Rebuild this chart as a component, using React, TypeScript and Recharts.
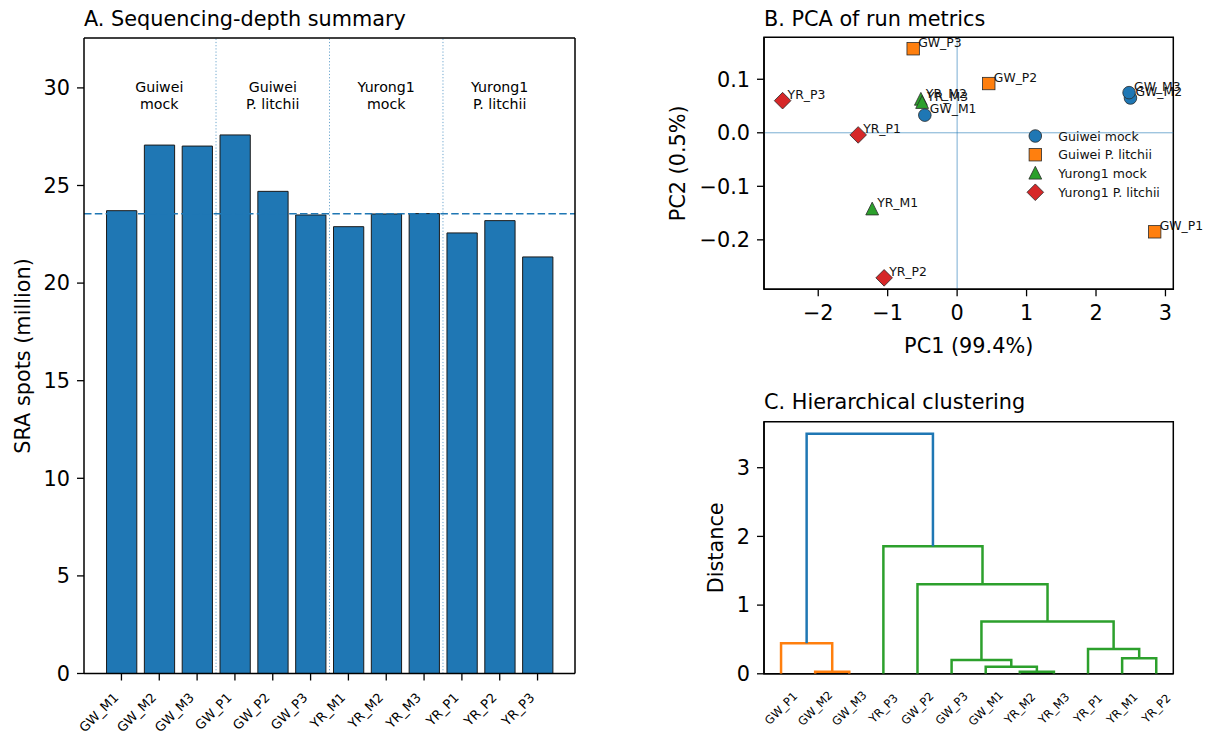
import React from 'react'
import {
  BarChart,
  Bar,
  XAxis,
  YAxis,
  ReferenceLine,
  ReferenceArea,
  ScatterChart,
  Scatter,
} from 'recharts'

const FONT = '"DejaVu Sans", Verdana, sans-serif'

// ---- A. sequencing depth ----
const samples = ['GW_M1', 'GW_M2', 'GW_M3', 'GW_P1', 'GW_P2', 'GW_P3', 'YR_M1', 'YR_M2', 'YR_M3', 'YR_P1', 'YR_P2', 'YR_P3']
const spotsMillion = [23.71, 27.07, 27.02, 27.59, 24.7, 23.49, 22.89, 23.54, 23.56, 22.57, 23.2, 21.34]
const medianSpots = 23.55
const groupTitles = [
  ['Guiwei', 'mock'],
  ['Guiwei', 'P. litchii'],
  ['Yurong1', 'mock'],
  ['Yurong1', 'P. litchii'],
]
const groupSize = 3
const spotTicks = [0, 5, 10, 15, 20, 25, 30]

// ---- B. PCA ----
const pcaGroups = ['Guiwei mock', 'Guiwei P. litchii', 'Yurong1 mock', 'Yurong1 P. litchii']
const pcaNames = [
  ['GW_M1', 'GW_M2', 'GW_M3'],
  ['GW_P1', 'GW_P2', 'GW_P3'],
  ['YR_M1', 'YR_M2', 'YR_M3'],
  ['YR_P1', 'YR_P2', 'YR_P3'],
]
const pc1 = [
  [-0.465, 2.496, 2.476],
  [2.845, 0.456, -0.633],
  [-1.223, -0.522, -0.504],
  [-1.425, -1.051, -2.513],
]
const pc2 = [
  [0.033, 0.065, 0.075],
  [-0.185, 0.092, 0.157],
  [-0.143, 0.062, 0.056],
  [-0.004, -0.271, 0.06],
]
const pc1Ticks = [-2, -1, 0, 1, 2, 3]
const pc2Ticks = [-0.2, -0.1, 0, 0.1]

// ---- C. clustering (scipy-like linkage, ids >= 12 are merged clusters) ----
const leafOrder = ['GW_P1', 'GW_M2', 'GW_M3', 'YR_P3', 'GW_P2', 'GW_P3', 'GW_M1', 'YR_M2', 'YR_M3', 'YR_P1', 'YR_M1', 'YR_P2']
const mergeLeft = [1, 0, 7, 6, 5, 10, 9, 16, 4, 3, 13]
const mergeRight = [2, 12, 8, 14, 15, 11, 17, 18, 19, 20, 21]
const mergeHeight = [0.03, 0.443, 0.03, 0.103, 0.2, 0.225, 0.36, 0.763, 1.305, 1.857, 3.495]
const distTicks = [0, 1, 2, 3]

const colors = ['#1f77b4', '#ff7f0e', '#2ca02c', '#d62728']
const markers = ['circle', 'square', 'triangle', 'diamond']

const tickStyle = { fontSize: 20.8, fill: '#000', fontFamily: FONT }
const spine = { stroke: '#000', strokeWidth: 1.5 }
const tickMark = { stroke: '#000', strokeWidth: 1.3 }
const minus = (s: string) => s.replace('-', '\u2212')

// ---------- panel A ----------
const depthData = samples.map((s, i) => ({ sample: s, spots: spotsMillion[i] }))
const span = samples.length - 1 + 0.8
const barXMin = -0.4 - 0.05 * span
const barXMax = samples.length - 1 + 0.4 + 0.05 * span
const spotsTop = Math.max(...spotsMillion) * 1.18
// middle sample of each group carries the label, last sample of a group carries the divider
const groupMid = groupTitles.map((_, g) => samples[g * groupSize + 1])
const groupEnd = groupTitles.slice(0, -1).map((_, g) => samples[g * groupSize + groupSize - 1])

function SampleTick({ x, y, payload }: any) {
  const ax = x - 2.2
  const ay = y + 18
  return (
    <text x={ax} y={ay} transform={`rotate(-45 ${ax} ${ay})`} textAnchor="end" fontSize={13} fill="#000" fontFamily={FONT}>
      {payload.value}
    </text>
  )
}

function GroupLabel({ viewBox, lines }: any) {
  const x = viewBox.x
  const y = viewBox.y + 54
  return (
    <text x={x} y={y} textAnchor="middle" fontSize={14.2} fill="#000" fontFamily={FONT}>
      <tspan x={x}>{lines[0]}</tspan>
      <tspan x={x} dy={16.7}>{lines[1]}</tspan>
    </text>
  )
}

function DepthChart() {
  const plotW = 491
  const unit = plotW / (barXMax - barXMin)
  const pad = (-0.5 - barXMin) * unit
  return (
    <BarChart width={600} height={738} data={depthData} margin={{ top: 37, right: 24, left: 24, bottom: 0 }}>
      <XAxis
        dataKey="sample"
        interval={0}
        height={64.5}
        padding={{ left: pad, right: pad }}
        tick={<SampleTick />}
        tickSize={7}
        tickMargin={0}
        tickLine={tickMark}
        axisLine={spine}
      />
      <XAxis xAxisId="top" orientation="top" dataKey="sample" height={1} padding={{ left: pad, right: pad }} tick={false} tickLine={false} axisLine={spine} />
      <YAxis
        domain={[0, spotsTop]}
        ticks={spotTicks}
        width={60}
        allowDataOverflow
        tick={tickStyle}
        tickSize={7}
        tickMargin={7}
        tickLine={tickMark}
        axisLine={spine}
      />
      <YAxis yAxisId="right" orientation="right" domain={[0, spotsTop]} width={1} tick={false} tickLine={false} axisLine={spine} />
      {groupEnd.map((s) => (
        <ReferenceLine key={s} x={s} position="end" stroke="#1f77b4" strokeOpacity={0.65} strokeWidth={1} strokeDasharray="1.2 2" />
      ))}
      <Bar dataKey="spots" fill="#1f77b4" stroke="#1a1a1a" strokeWidth={1} barSize={0.8 * unit} isAnimationActive={false} />
      <ReferenceLine y={medianSpots} stroke="#1f77b4" strokeWidth={1.4} strokeDasharray="7.5 3.3" />
      {groupMid.map((s, i) => (
        <ReferenceLine key={s} x={s} stroke="none" label={<GroupLabel lines={groupTitles[i]} />} />
      ))}
    </BarChart>
  )
}

// ---------- panel B ----------
function Marker({ kind, cx, cy, color }: { kind: string; cx: number; cy: number; color: string }) {
  const edge = { stroke: '#2a2a2a', strokeWidth: 0.8, fill: color }
  if (kind === 'circle') return <circle cx={cx} cy={cy} r={6.3} {...edge} />
  if (kind === 'square') return <rect x={cx - 6.2} y={cy - 6.2} width={12.4} height={12.4} {...edge} />
  if (kind === 'triangle')
    return <polygon points={`${cx},${cy - 7.2} ${cx - 6.4},${cy + 5.6} ${cx + 6.4},${cy + 5.6}`} {...edge} />
  return <polygon points={`${cx},${cy - 8.3} ${cx + 8.3},${cy} ${cx},${cy + 8.3} ${cx - 8.3},${cy}`} {...edge} />
}

const allPc1 = pc1.flat()
const allPc2 = pc2.flat()
const pc1Span = Math.max(...allPc1) - Math.min(...allPc1)
const pc2Span = Math.max(...allPc2) - Math.min(...allPc2)
const pc1Dom = [Math.min(...allPc1) - 0.05 * pc1Span, Math.max(...allPc1) + 0.05 * pc1Span]
const pc2Dom = [Math.min(...allPc2) - 0.05 * pc2Span, Math.max(...allPc2) + 0.05 * pc2Span]

function PcaChart() {
  return (
    <ScatterChart width={567} height={370} margin={{ top: 37.3, right: 33.7, left: 64, bottom: 40.7 }}>
      <XAxis
        type="number"
        dataKey="x"
        domain={pc1Dom}
        ticks={pc1Ticks}
        height={40}
        tick={tickStyle}
        tickSize={7}
        tickMargin={9}
        tickFormatter={(v: number) => minus(String(v))}
        tickLine={tickMark}
        axisLine={spine}
      />
      <YAxis
        type="number"
        dataKey="y"
        domain={pc2Dom}
        ticks={pc2Ticks}
        width={60}
        tick={tickStyle}
        tickSize={7}
        tickMargin={7}
        tickFormatter={(v: number) => minus(v.toFixed(1))}
        tickLine={tickMark}
        axisLine={spine}
      />
      <ReferenceArea x1={pc1Dom[0]} x2={pc1Dom[1]} y1={pc2Dom[0]} y2={pc2Dom[1]} fill="none" stroke="#000" strokeWidth={1.5} />
      <ReferenceLine x={0} stroke="#1f77b4" strokeOpacity={0.6} strokeWidth={1} />
      <ReferenceLine y={0} stroke="#1f77b4" strokeOpacity={0.6} strokeWidth={1} />
      {pcaGroups.map((g, gi) => (
        <Scatter
          key={g}
          name={g}
          data={pcaNames[gi].map((n, j) => ({ name: n, x: pc1[gi][j], y: pc2[gi][j] }))}
          isAnimationActive={false}
          shape={(p: any) => (
            <g>
              <Marker kind={markers[gi]} cx={p.cx} cy={p.cy} color={colors[gi]} />
              <text x={p.cx + 5} y={p.cy - 2} fontSize={12.4} fill="#111" fontFamily={FONT}>
                {p.payload.name}
              </text>
            </g>
          )}
        />
      ))}
    </ScatterChart>
  )
}

// ---------- panel C ----------
const nLeaves = leafOrder.length
const nodeX: number[] = leafOrder.map((_, i) => 5 + 10 * i)
const nodeH: number[] = leafOrder.map(() => 0)
const parent: number[] = []
mergeLeft.forEach((l, k) => {
  const r = mergeRight[k]
  nodeX.push((nodeX[l] + nodeX[r]) / 2)
  nodeH.push(mergeHeight[k])
  parent[l] = nLeaves + k
  parent[r] = nLeaves + k
})
const colorThreshold = 0.7 * Math.max(...mergeHeight)
// each sub-threshold cluster root gets the next palette colour, left to right
const clusterRoot = (id: number) => {
  let cur = id
  while (parent[cur] !== undefined && nodeH[parent[cur]] < colorThreshold) cur = parent[cur]
  return cur
}
const roots = Array.from(new Set(mergeHeight.map((h, k) => (h < colorThreshold ? clusterRoot(nLeaves + k) : -1)).filter((r) => r >= 0))).sort(
  (a, b) => nodeX[a] - nodeX[b],
)
const palette = ['#ff7f0e', '#2ca02c', '#d62728', '#9467bd']
const links = mergeLeft.map((l, k) => {
  const r = mergeRight[k]
  const h = mergeHeight[k]
  const color = h >= colorThreshold ? '#1f77b4' : palette[roots.indexOf(clusterRoot(nLeaves + k))]
  return {
    color,
    pts: [
      { x: nodeX[l], y: nodeH[l] },
      { x: nodeX[l], y: h },
      { x: nodeX[r], y: h },
      { x: nodeX[r], y: nodeH[r] },
    ],
  }
})
const distTop = Math.max(...mergeHeight) * 1.05

function LeafTick({ x, y, payload }: any) {
  const cy = y + 34.5
  const idx = Math.round((payload.value - 5) / 10)
  return (
    <text x={x} y={cy} transform={`rotate(-45 ${x} ${cy})`} textAnchor="middle" dominantBaseline="central" fontSize={11.5} fill="#000" fontFamily={FONT}>
      {leafOrder[idx]}
    </text>
  )
}

function ClusterChart() {
  return (
    <ScatterChart width={567} height={358} margin={{ top: 41.7, right: 33.7, left: 64, bottom: 0 }}>
      <XAxis
        type="number"
        dataKey="x"
        domain={[0, nLeaves * 10]}
        ticks={nodeX.slice(0, nLeaves)}
        interval={0}
        allowDataOverflow
        height={64.2}
        tick={<LeafTick />}
        tickLine={false}
        tickSize={0}
        tickMargin={0}
        axisLine={spine}
      />
      <YAxis
        type="number"
        dataKey="y"
        domain={[0, distTop]}
        ticks={distTicks}
        allowDataOverflow
        width={60}
        tick={tickStyle}
        tickSize={7}
        tickMargin={7}
        tickLine={tickMark}
        axisLine={spine}
      />
      {links.map((lk, i) => (
        <Scatter
          key={i}
          data={lk.pts}
          line={{ stroke: lk.color, strokeWidth: 2.5 }}
          lineType="joint"
          shape={() => <g />}
          isAnimationActive={false}
        />
      ))}
      <ReferenceArea x1={0} x2={nLeaves * 10} y1={0} y2={distTop} fill="none" stroke="#000" strokeWidth={1.5} />
    </ScatterChart>
  )
}

export default function App() {
  return (
    <div style={{ position: 'absolute', left: 0, top: 0, width: 1207, height: 738, background: '#fff', fontFamily: FONT }}>
      <div style={{ position: 'absolute', left: 0, top: 0 }}>
        <DepthChart />
      </div>
      <div style={{ position: 'absolute', left: 640, top: 0 }}>
        <PcaChart />
      </div>
      <div style={{ position: 'absolute', left: 640, top: 380 }}>
        <ClusterChart />
      </div>
      <svg width={1207} height={738} style={{ position: 'absolute', left: 0, top: 0, pointerEvents: 'none' }} fontFamily={FONT}>
        <text x={84} y={26} fontSize={20.8} fill="#000">A. Sequencing-depth summary</text>
        <text x={764} y={26} fontSize={20.8} fill="#000">B. PCA of run metrics</text>
        <text x={764} y={409.3} fontSize={20.8} fill="#000">C. Hierarchical clustering</text>
        <text x={23} y={356} transform="rotate(-90 23 356)" textAnchor="middle" dominantBaseline="central" fontSize={20.8} fill="#000">
          SRA spots (million)
        </text>
        <text x={678.5} y={163.3} transform="rotate(-90 678.5 163.3)" textAnchor="middle" dominantBaseline="central" fontSize={20.8} fill="#000">
          PC2 (0.5%)
        </text>
        <text x={716} y={547.8} transform="rotate(-90 716 547.8)" textAnchor="middle" dominantBaseline="central" fontSize={20.8} fill="#000">
          Distance
        </text>
        <text x={968.7} y={353} textAnchor="middle" fontSize={20.8} fill="#000">PC1 (99.4%)</text>
        {pcaGroups.map((g, i) => (
          <g key={g}>
            <Marker kind={markers[i]} cx={1035.3} cy={136 + i * 18.75} color={colors[i]} />
            <text x={1058.3} y={136 + i * 18.75} dominantBaseline="central" fontSize={12.5} fill="#111">
              {g}
            </text>
          </g>
        ))}
      </svg>
    </div>
  )
}
